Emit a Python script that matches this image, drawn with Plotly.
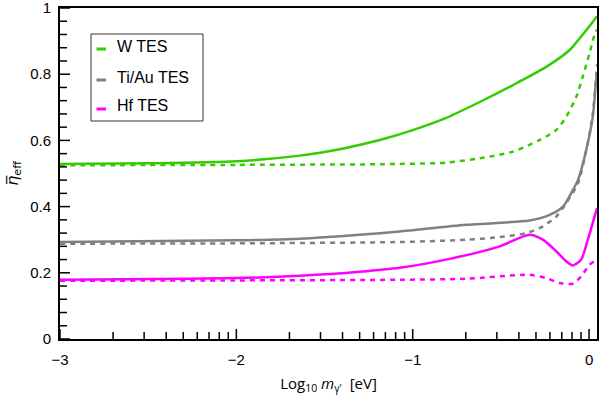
import numpy as np
import plotly.graph_objects as go

# log10 mass [eV]
x_w_solid = [-3.0, -2.5, -2.0, -1.64, -1.4, -1.187, -1.0, -0.81, -0.62, -0.432, -0.243, -0.11, -0.054, 0.021, 0.045]
w_solid   = [0.529, 0.531, 0.537, 0.554, 0.575, 0.601, 0.631, 0.668, 0.716, 0.767, 0.822, 0.873, 0.908, 0.958, 0.975]

x_w_dash = [-3.0, -2.0, -1.5, -1.187, -0.81, -0.62, -0.432, -0.281, -0.187, -0.13, -0.073, -0.036, 0.002, 0.03, 0.045]
w_dash   = [0.525, 0.526, 0.527, 0.528, 0.533, 0.546, 0.566, 0.601, 0.631, 0.671, 0.731, 0.792, 0.862, 0.917, 0.935]

x_ti_solid = [-3.0, -2.0, -1.64, -1.3, -1.074, -0.696, -0.337, -0.224, -0.148, -0.092, -0.063, -0.016, 0.021, 0.04, 0.045]
ti_solid   = [0.293, 0.298, 0.303, 0.315, 0.325, 0.345, 0.358, 0.375, 0.400, 0.450, 0.480, 0.571, 0.671, 0.782, 0.800]

x_ti_dash = [-3.0, -2.0, -1.074, -0.696, -0.507, -0.356, -0.262, -0.186, -0.148, -0.063, -0.016, 0.021, 0.045]
ti_dash   = [0.288, 0.289, 0.293, 0.300, 0.308, 0.320, 0.340, 0.370, 0.396, 0.470, 0.570, 0.680, 0.830]

x_hf_solid = [-3.0, -2.0, -1.64, -1.3, -1.074, -0.791, -0.507, -0.337, -0.262, -0.186, -0.13, -0.092, -0.045, -0.007, 0.040, 0.045]
hf_solid   = [0.179, 0.184, 0.191, 0.203, 0.215, 0.242, 0.280, 0.315, 0.300, 0.265, 0.235, 0.222, 0.240, 0.300, 0.386, 0.395]

x_hf_dash = [-3.0, -2.0, -1.074, -0.696, -0.337, -0.243, -0.167, -0.092, -0.045, 0.002, 0.03, 0.045]
hf_dash   = [0.176, 0.177, 0.179, 0.182, 0.194, 0.184, 0.169, 0.167, 0.189, 0.224, 0.234, 0.232]

legend_names = ["W TES", "Ti/Au TES", "Hf TES"]
colors = ["#33cc00", "#808080", "#ff00ff"]

x_major = [-3, -2, -1, 0]
x_labels = ["\u22123", "\u22122", "\u22121", "0"]
x_minor = [round(d + float(np.log10(k)), 5) for d in (-3, -2, -1) for k in range(2, 10)]
y_major = [0, 0.2, 0.4, 0.6, 0.8, 1]
y_labels = ["0", "0.2", "0.4", "0.6", "0.8", "1"]
y_minor = [round(0.04 * i, 4) for i in range(26) if i % 5 != 0]

X_RANGE = [-3, 0.045]
Y_RANGE = [0, 1]

fig = go.Figure()
series = [
    (x_w_solid, w_solid, colors[0], "solid"),
    (x_w_dash, w_dash, colors[0], "dash"),
    (x_ti_solid, ti_solid, colors[1], "solid"),
    (x_ti_dash, ti_dash, colors[1], "dash"),
    (x_hf_solid, hf_solid, colors[2], "solid"),
    (x_hf_dash, hf_dash, colors[2], "dash"),
]
for xs, ys, c, d in series:
    fig.add_trace(go.Scatter(
        x=xs, y=ys, mode="lines", showlegend=False,
        line=dict(color=c, width=2.5, dash="5px,5px" if d == "dash" else "solid",
                  shape="spline", smoothing=0.7),
    ))

font = "Liberation Sans, Arial, sans-serif"
fig.update_layout(
    width=613, height=395,
    margin=dict(l=60, r=16, t=8, b=56, autoexpand=False),
    paper_bgcolor="white", plot_bgcolor="white",
    showlegend=False,
    font=dict(family=font, size=15, color="black"),
    xaxis=dict(
        range=X_RANGE, showgrid=False, zeroline=False, automargin=False,
        showline=True, linecolor="black", linewidth=2, mirror=True,
        tickmode="array", tickvals=x_major, ticktext=x_labels, ticks="",
        ticklabelstandoff=6, ticklabeloverflow="allow",
        tickfont=dict(family=font, size=15),
        title=dict(text="Log<sub>10</sub> <i>m</i><sub>\u03b3'</sub>  [eV]",
                   font=dict(family="Open Sans, sans-serif", size=15), standoff=12),
    ),
    yaxis=dict(
        range=Y_RANGE, showgrid=False, zeroline=False, automargin=False,
        showline=True, linecolor="black", linewidth=2, mirror=True,
        tickmode="array", tickvals=y_major, ticktext=y_labels, ticks="",
        ticklabelstandoff=4, ticklabeloverflow="allow",
        tickfont=dict(family=font, size=15),
        title=dict(text="<i>\u03b7\u0305</i><sub>eff</sub>",
                   font=dict(family="DejaVu Sans, sans-serif", size=16), standoff=8),
    ),
)

# inward tick marks, positioned on the data axes, with pixel lengths
tick_line = dict(color="black", width=1.5)
for vals, ln in ((x_major, 10), (x_minor, 7)):
    for v in vals:
        fig.add_shape(type="line", xref="x", yref="y", x0=v, x1=v,
                      ysizemode="pixel", yanchor=Y_RANGE[0], y0=0, y1=ln,
                      line=tick_line, layer="above")
for vals, ln in ((y_major, 10), (y_minor, 7)):
    for v in vals:
        fig.add_shape(type="line", xref="x", yref="y", y0=v, y1=v,
                      xsizemode="pixel", xanchor=X_RANGE[0], x0=0, x1=ln,
                      line=tick_line, layer="above")

# manual legend box (paper coordinates derived from pixel layout)
W, H = 537.0, 331.0
def px(xp):
    return (xp - 60) / W
def py(yp):
    return (339.0 - yp) / H

fig.add_shape(type="rect", xref="paper", yref="paper",
              x0=px(91), x1=px(203), y0=py(121), y1=py(34),
              line=dict(color="#333333", width=1), fillcolor="white")
rows = [46, 77, 106]
for name, c, r in zip(legend_names, colors, rows):
    fig.add_shape(type="line", xref="paper", yref="paper",
                  x0=px(96.5), x1=px(106), y0=py(r + 3), y1=py(r + 3),
                  line=dict(color=c, width=3))
    fig.add_annotation(xref="paper", yref="paper", x=px(115), y=py(r),
                       text=name, showarrow=False, xanchor="left", yanchor="middle",
                       font=dict(family=font, size=16, color="black"))

fig.write_html("out.html")
